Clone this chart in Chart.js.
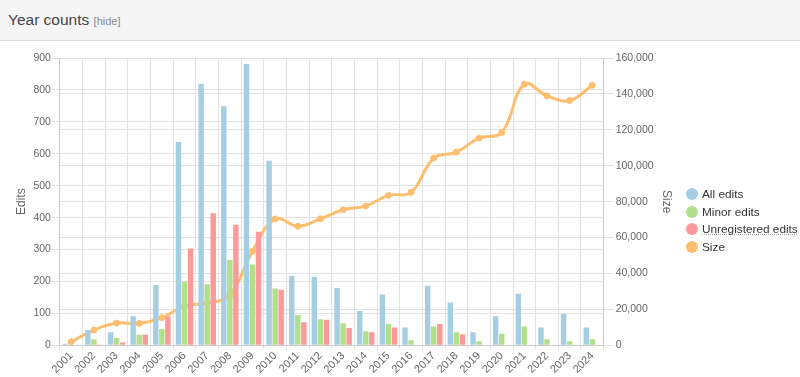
<!DOCTYPE html>
<html>
<head>
<meta charset="utf-8">
<script src="https://cdn.jsdelivr.net/npm/chart.js@4/dist/chart.umd.min.js"></script>
<style>
    body { margin: 0; background: #fff; font-family: "Liberation Sans", Arial, sans-serif; }
    .cabecalho {
        height: 41px;
        background: #f5f5f5;
        border-bottom: 1px solid #dcdcdc;
        box-sizing: border-box;
        padding: 11px 0 0 8px;
        color: #444;
        font-size: 15.5px;
    }
    .cabecalho small { font-size: 11px; color: #888; }
    .grafico-box { position: relative; width: 800px; height: 336px; }
    #legenda { position: absolute; left: 686px; top: 145px; font-size: 11.8px; color: #333; }
    #legenda div { height: 17.5px; line-height: 17.5px; white-space: nowrap; }
    #legenda span.bola {
        display: inline-block; width: 12px; height: 12px; border-radius: 50%;
        vertical-align: -2px; margin-right: 4px;
    }
    #legenda abbr { text-decoration: underline dotted #aaa; }
</style>
</head>
<body>
<div class="cabecalho">Year counts <small>[hide]</small></div>
<div class="grafico-box">
    <canvas id="grafico-anos"></canvas>
    <div id="legenda"></div>
</div>
<script>
const ANOS = ['2001', '2002', '2003', '2004', '2005', '2006', '2007', '2008', '2009', '2010', '2011', '2012',
    '2013', '2014', '2015', '2016', '2017', '2018', '2019', '2020', '2021', '2022', '2023', '2024'];
const TODAS_EDICOES = [5, 48, 41, 91, 189, 637, 819, 749, 881, 578, 217, 215,
    180, 108, 159, 56, 187, 134, 41, 91, 162, 56, 98, 56];
const EDICOES_MENORES = [0, 19, 23, 33, 51, 199, 191, 267, 253, 178, 95, 82,
    69, 44, 67, 16, 59, 41, 13, 36, 59, 19, 13, 19];
const EDICOES_ANONIMAS = [0, 3, 9, 33, 91, 303, 414, 378, 356, 174, 72, 80,
    54, 41, 56, 0, 67, 35, 0, 0, 0, 0, 0, 0];
const TAMANHO = [2000, 8500, 12400, 12200, 15400, 22000, 23500, 28000, 52400, 70400, 66300, 70500,
    75500, 77600, 83500, 85200, 104300, 107600, 115400, 118500, 145400, 138900, 136300, 144800];

const CORES = {
    azul: '#a6cee3',
    verde: '#b2df8a',
    vermelho: '#fb9a99',
    laranja: '#fdbf6f'
};

const ctx = document.getElementById('grafico-anos').getContext('2d');
Chart.defaults.font.family = '"Liberation Sans", Arial, sans-serif';
Chart.defaults.color = '#666';

const grafico = new Chart(ctx, {
    type: 'bar',
    data: {
        labels: ANOS,
        datasets: [
            { label: 'All edits', data: TODAS_EDICOES, backgroundColor: CORES.azul, yAxisID: 'y', order: 1 },
            { label: 'Minor edits', data: EDICOES_MENORES, backgroundColor: CORES.verde, yAxisID: 'y', order: 1 },
            { label: 'Unregistered edits', data: EDICOES_ANONIMAS, backgroundColor: CORES.vermelho, yAxisID: 'y', order: 1 },
            {
                type: 'line',
                label: 'Size',
                data: TAMANHO,
                borderColor: CORES.laranja,
                backgroundColor: CORES.laranja,
                borderWidth: 3,
                pointRadius: 3,
                pointBorderWidth: 1,
                tension: 0.4,
                yAxisID: 'y1',
                order: 2
            }
        ]
    },
    options: {
        responsive: true,
        maintainAspectRatio: false,
        animation: false,
        layout: { padding: { top: 17, left: 10, right: 122, bottom: 1 } },
        plugins: {
            legend: { display: false },
            tooltip: { enabled: false }
        },
        scales: {
            x: {
                grid: { color: '#e3e3e3', tickLength: 4 },
                ticks: { maxRotation: 45, minRotation: 45, autoSkip: false, padding: 0, font: { size: 11 } }
            },
            y: {
                position: 'left',
                min: 0,
                max: 900,
                ticks: { stepSize: 100, padding: 1, font: { size: 10.5 } },
                grid: { color: '#e3e3e3', tickLength: 8 },
                title: { display: true, text: 'Edits', font: { size: 12 } }
            },
            y1: {
                position: 'right',
                min: 0,
                max: 160000,
                ticks: { stepSize: 20000, padding: 2, font: { size: 10.5 } },
                grid: { color: '#e3e3e3', tickLength: 10 },
                title: { display: true, text: 'Size', font: { size: 12 } }
            }
        }
    }
});

// legenda em HTML, como no original
const legenda = document.getElementById('legenda');
grafico.data.datasets.forEach(ds => {
    const item = document.createElement('div');
    const texto = ds.label === 'Unregistered edits' ? `<abbr>${ds.label}</abbr>` : ds.label;
    item.innerHTML = `<span class="bola" style="background:${ds.backgroundColor}"></span>${texto}`;
    legenda.appendChild(item);
});
</script>
</body>
</html>
